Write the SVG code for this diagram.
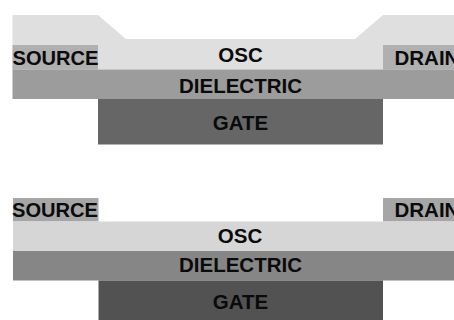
<svg xmlns="http://www.w3.org/2000/svg" width="454" height="320" viewBox="0 0 454 320">
<style>
text{font-family:"Liberation Sans",Arial,sans-serif;font-weight:bold;font-size:20.5px;fill:#0a0a0a}
.m{text-anchor:middle}
</style>
<rect width="454" height="320" fill="#fff"/>
<g id="top-osc"><path d="M12.5 15H98L126 39H355L383 15H454V69.5H12.5Z" fill="#dfdfdf"/><text class="m" x="240.500" y="61.500">OSC</text></g>
<g id="top-source"><rect x="12.500" y="45" width="85.500" height="24.500" fill="#b0b0b0"/><text x="12.500" y="65" textLength="86" lengthAdjust="spacingAndGlyphs">SOURCE</text></g>
<g id="top-drain"><rect x="383" y="45" width="71" height="24.500" fill="#b0b0b0"/><text x="394.500" y="65">DRAIN</text></g>
<g id="top-dielectric"><rect x="12.500" y="69.500" width="441.500" height="29.500" fill="#9c9c9c"/><text class="m" x="240.500" y="92.500">DIELECTRIC</text></g>
<g id="top-gate"><rect x="98" y="99" width="285" height="45.500" fill="#666"/><text class="m" x="240.500" y="129.500">GATE</text></g>
<g id="bottom-source"><rect x="13" y="198" width="85.500" height="23.500" fill="#a6a6a6"/><text x="12" y="216.500" textLength="86" lengthAdjust="spacingAndGlyphs">SOURCE</text></g>
<g id="bottom-drain"><rect x="383" y="198" width="71" height="23.500" fill="#a6a6a6"/><text x="394.500" y="216.500">DRAIN</text></g>
<g id="bottom-osc"><rect x="13" y="221.500" width="441" height="29.500" fill="#d6d6d6"/><text class="m" x="240" y="242.500">OSC</text></g>
<g id="bottom-dielectric"><rect x="13" y="251" width="441" height="29.500" fill="#868686"/><text class="m" x="240.500" y="271.500">DIELECTRIC</text></g>
<g id="bottom-gate"><rect x="98.500" y="280.500" width="284.500" height="39.500" fill="#525252"/><text class="m" x="240.500" y="308.500">GATE</text></g>
<g id="connectors"/>
</svg>
